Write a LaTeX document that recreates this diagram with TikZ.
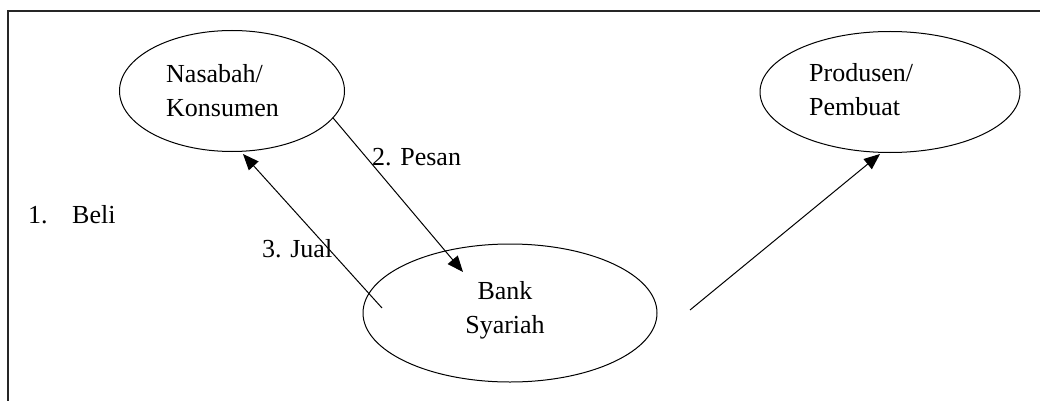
\documentclass[tikz,border=0pt]{standalone}
\usepackage{fontspec}
\setmainfont{Liberation Serif}
\usetikzlibrary{shapes.geometric,arrows.meta}
\begin{document}
\begin{tikzpicture}[x=1pt,y=-1pt,
  oval/.style={ellipse,draw,line width=1pt,inner sep=0pt},
  lbl/.style={font=\fontsize{26}{34}\selectfont,inner sep=0pt,align=left,anchor=base west},
  arr/.style={draw,line width=1pt,-{Triangle[length=16pt,width=13pt]}}]
\useasboundingbox[fill=white] (0,0) rectangle (1040,401);
\draw[line width=1.6pt,black!85] (8,420) -- (8,11) -- (1060,11);
\node[oval,minimum width=225pt,minimum height=121pt] (nas) at (232,91) {};
\node[oval,minimum width=260pt,minimum height=121pt] (pro) at (890,92) {};
\node[oval,minimum width=294pt,minimum height=138pt] (bank) at (510,313) {};
\node[lbl] (tnas) at (166,117) {Nasabah/\\Konsumen};
\node[lbl] (tpro) at (809,116) {Produsen/\\Pembuat};
\node[lbl,align=center,anchor=base] (tbank) at (505,333) {Bank\\Syariah};
\node[lbl] (t1) at (28,223) {1.};
\node[lbl] (tbeli) at (72,223) {Beli};
\node[lbl] (t2) at (372,165) {2. Pesan};
\node[lbl] (t3) at (262,257) {3. Jual};
\coordinate (pesanEnd) at (463,272);
\coordinate (jualStart) at (382,308);
\coordinate (jualEnd) at (243,154);
\coordinate (proStart) at (690,310);
\coordinate (proEnd) at (880,154);
\draw[arr] (nas.-15) -- (pesanEnd);
\draw[arr] (jualStart) -- (jualEnd);
\draw[arr] (proStart) -- (proEnd);
\end{tikzpicture}
\end{document}
